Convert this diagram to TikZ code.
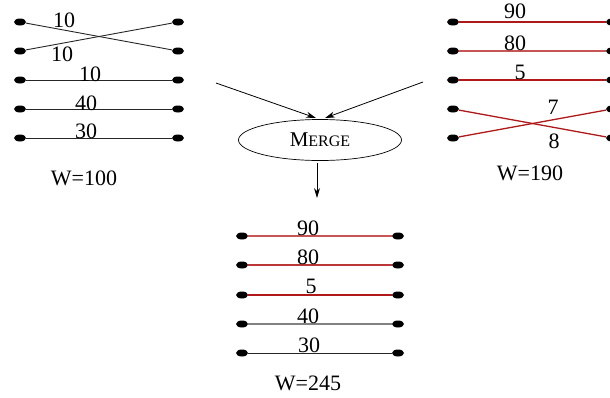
\documentclass[tikz,border=0pt]{standalone}
\usepackage{fontspec}
\setmainfont{Liberation Serif}
\usetikzlibrary{arrows.meta,shapes.geometric}
\definecolor{wirered}{RGB}{175,25,25}
\definecolor{wirepink}{RGB}{200,85,85}
\definecolor{wiregray}{RGB}{130,130,130}
\tikzset{
  pin/.style={ellipse,fill=black,minimum width=12pt,minimum height=7pt,inner sep=0pt},
  wire/.style={line width=0.9pt,black!85},
  redwire/.style={line width=1.3pt},
  num/.style={font=\fontsize{22}{25}\selectfont,inner sep=0pt},
  arr/.style={line width=0.8pt,-{Stealth[length=10pt,width=6pt]}}
}
\begin{document}
\begin{tikzpicture}[x=1pt,y=-1pt]
\useasboundingbox (0,0) rectangle (610,397);
% left network, W=100
\foreach \r/\y in {1/22,2/51,3/80,4/109,5/138}{
  \node[pin] (la\r) at (20,\y) {};
  \node[pin] (lb\r) at (178,\y) {};
}
\draw[wire] (la1) -- (lb2);
\draw[wire] (la2) -- (lb1);
\draw[wire] (la3) -- (lb3);
\draw[wire] (la4) -- (lb4);
\draw[wire] (la5) -- (lb5);
\node[num] (lt1) at (64,20) {10};
\node[num] (lt2) at (62,54) {10};
\node[num] (lt3) at (90,74) {10};
\node[num] (lt4) at (86,103) {40};
\node[num] (lt5) at (86,131) {30};
\node[num] (lw) at (84,178) {W=100};
% right network, W=190
\foreach \r/\y in {1/22,2/51,3/80,4/109,5/138}{
  \node[pin] (ra\r) at (453,\y) {};
  \node[pin] (rb\r) at (612,\y) {};
}
\draw[redwire,wirered] (ra1) -- (rb1);
\draw[redwire,wirepink] (ra2) -- (rb2);
\draw[redwire,wirered] (ra3) -- (rb3);
\draw[redwire,wirered] (ra4) -- (rb5);
\draw[redwire,wirered] (ra5) -- (rb4);
\node[num] (rt1) at (515,11) {90};
\node[num] (rt2) at (515,43) {80};
\node[num] (rt3) at (520,72) {5};
\node[num] (rt4) at (553,107) {7};
\node[num] (rt5) at (554,141) {8};
\node[num] (rw) at (530,173) {W=190};
% merge step
\node[draw,ellipse,line width=0.7pt,minimum width=163pt,minimum height=41pt,inner sep=0pt,
      font=\fontsize{21}{24}\selectfont] (mg) at (320,140) {M{\fontsize{16}{19}\selectfont ERGE}};
\coordinate (fl) at (216,83);
\coordinate (fr) at (423,82);
\coordinate (tl) at (316,118);
\coordinate (tr) at (325,118);
\draw[arr] (fl) -- (tl);
\draw[arr] (fr) -- (tr);
\coordinate (dt) at (317,198);
\draw[arr] (mg.south) ++(-3,2) coordinate (ds) -- (dt);
% merged network, W=245
\foreach \r/\y in {1/236,2/265,3/295,4/324,5/353}{
  \node[pin] (ma\r) at (242,\y) {};
  \node[pin] (mb\r) at (398,\y) {};
}
\draw[redwire,wirepink] (ma1) -- (mb1);
\draw[redwire,wirepink!50!wirered] (ma2) -- (mb2);
\draw[redwire,wirered] (ma3) -- (mb3);
\draw[redwire,wiregray] (ma4) -- (mb4);
\draw[wire] (ma5) -- (mb5);
\node[num] (mt1) at (308,228) {90};
\node[num] (mt2) at (308,257) {80};
\node[num] (mt3) at (311,286) {5};
\node[num] (mt4) at (308,316) {40};
\node[num] (mt5) at (309,345) {30};
\node[num] (mw) at (308,383) {W=245};
\end{tikzpicture}
\end{document}
